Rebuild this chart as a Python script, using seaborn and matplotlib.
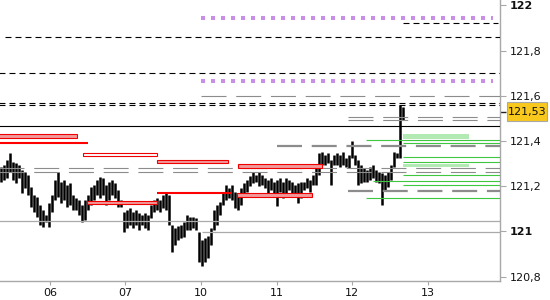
import matplotlib
matplotlib.use("Agg")
import matplotlib.pyplot as plt
import matplotlib.transforms as mtransforms
from matplotlib.patches import Rectangle
import seaborn as sns

sns.set_theme(style="white")
plt.rcParams["font.family"] = ["DejaVu Sans"]
plt.rcParams["lines.scale_dashes"] = False

# ---------------- data ----------------
bar_high = [121.285, 121.294, 121.316, 121.347, 121.307, 121.303, 121.294, 121.272, 121.263, 121.250,
            121.197, 121.162, 121.153, 121.117, 121.095, 121.073, 121.126, 121.162, 121.228, 121.263,
            121.219, 121.228, 121.206, 121.215, 121.162, 121.148, 121.139, 121.117, 121.139, 121.162,
            121.197, 121.206, 121.228, 121.241, 121.237, 121.206, 121.219, 121.228, 121.215, 121.184,
            121.139, 121.086, 121.095, 121.104, 121.086, 121.095, 121.082, 121.073, 121.082, 121.073,
            121.117, 121.139, 121.148, 121.139, 121.162, 121.175, 121.162, 121.029, 121.015, 121.024,
            121.029, 121.042, 121.073, 121.064, 121.064, 121.060, 120.998, 120.962, 120.971, 120.980,
            121.015, 121.095, 121.117, 121.130, 121.175, 121.206, 121.192, 121.206, 121.175, 121.170,
            121.192, 121.215, 121.228, 121.246, 121.263, 121.250, 121.263, 121.250, 121.237, 121.228,
            121.237, 121.219, 121.228, 121.237, 121.219, 121.237, 121.228, 121.219, 121.206, 121.215,
            121.219, 121.219, 121.237, 121.228, 121.250, 121.294, 121.347, 121.352, 121.338, 121.347,
            121.316, 121.338, 121.347, 121.338, 121.352, 121.325, 121.338, 121.400, 121.338, 121.316,
            121.294, 121.281, 121.272, 121.285, 121.294, 121.272, 121.263, 121.259, 121.250, 121.263,
            121.294, 121.352, 121.347, 121.560, 121.551]
bar_low = [121.219, 121.228, 121.237, 121.263, 121.228, 121.215, 121.237, 121.170, 121.192, 121.162,
           121.108, 121.086, 121.064, 121.029, 121.020, 121.042, 121.020, 121.086, 121.139, 121.153,
           121.126, 121.139, 121.108, 121.117, 121.095, 121.095, 121.073, 121.042, 121.051, 121.095,
           121.117, 121.139, 121.162, 121.148, 121.162, 121.117, 121.139, 121.162, 121.148, 121.108,
           121.108, 120.998, 121.015, 121.029, 121.015, 121.029, 121.007, 121.029, 121.015, 121.007,
           121.060, 121.086, 121.095, 121.086, 121.104, 121.095, 121.029, 120.909, 120.940, 120.962,
           120.971, 120.976, 121.007, 121.007, 121.015, 121.007, 120.865, 120.847, 120.865, 120.883,
           120.940, 121.007, 121.029, 121.073, 121.117, 121.139, 121.148, 121.139, 121.104, 121.095,
           121.117, 121.153, 121.175, 121.201, 121.215, 121.219, 121.201, 121.206, 121.192, 121.162,
           121.184, 121.162, 121.113, 121.175, 121.148, 121.162, 121.184, 121.170, 121.162, 121.126,
           121.148, 121.184, 121.192, 121.175, 121.206, 121.206, 121.250, 121.294, 121.294, 121.303,
           121.206, 121.294, 121.294, 121.285, 121.294, 121.285, 121.281, 121.325, 121.294, 121.206,
           121.215, 121.219, 121.219, 121.228, 121.237, 121.219, 121.215, 121.117, 121.184, 121.197,
           121.228, 121.285, 121.325, 121.325, 121.493]
bar_t0 = 0.351          # session time of the first bar (day units)
bar_step = 3 / 75.5     # bar interval (day units)

day_ticks = [1, 2, 3, 4, 5, 6]
day_labels = ["06", "07", "10", "11", "12", "13"]
price_ticks = [120.8, 121.0, 121.2, 121.4, 121.6, 121.8, 122.0]
price_labels = ["120,8", "121", "121,2", "121,4", "121,6", "121,8", "122"]
bold_labels = ["121", "122"]
last_price = 121.53
last_label = "121,53"

# horizontal levels: price, start, end
black_dash_price = [121.921, 121.859, 121.700, 121.567, 121.558]
black_dash_start = [5.676, 0.404, 0.0, 0.0, 0.0]
black_dash_end = [6.934, 7.0, 7.0, 7.0, 7.0]

black_solid_price = [121.465]
black_solid_start = [0.0]
black_solid_end = [7.0]

purple_price = [121.946, 121.666]
purple_start = [3.0, 3.0]
purple_end = [6.868, 6.868]

gray_thin_dash_price = [121.598, 121.505, 121.492, 121.282, 121.262]
gray_thin_dash_start = [3.0, 4.947, 4.947, 0.0, 0.0]
gray_thin_dash_end = [7.0, 7.0, 7.0, 7.0, 7.0]

gray_thick_price = [121.380, 121.179]
gray_thick_start = [4.007, 4.947]
gray_thick_end = [7.0, 7.0]

gray_solid_price = [121.046, 120.996]
gray_solid_start = [0.0, 3.013]
gray_solid_end = [7.0, 7.0]

green_price = [121.403, 121.390, 121.328, 121.306, 121.249, 121.223, 121.204, 121.147]
green_start = [5.185, 5.676, 5.676, 5.676, 5.676, 5.278, 5.676, 5.185]
green_end = [7.0, 7.0, 7.0, 7.0, 7.0, 7.0, 7.0, 7.0]

green_zone_low = [121.410, 121.284]
green_zone_high = [121.431, 121.300]
green_zone_start = [5.676, 5.676]
green_zone_end = [6.550, 6.550]

red_line_price = [121.392, 121.172]
red_line_start = [0.0, 2.417]
red_line_end = [1.504, 3.411]

red_zone_low = [121.415, 121.335, 121.304, 121.122, 121.279, 121.154]
red_zone_high = [121.430, 121.346, 121.316, 121.136, 121.298, 121.171]
red_zone_start = [0.0, 1.437, 2.417, 1.490, 3.490, 3.477]
red_zone_end = [1.358, 2.417, 3.358, 2.417, 4.603, 4.470]
red_zone_fill = [True, False, True, True, True, True]

# ---------------- figure ----------------
fig = plt.figure(figsize=(5.5, 3.0), dpi=100)
ax = fig.add_axes([0.0, 19 / 300, 500 / 550, 281 / 300])
ax.set_xlim(0.338, 6.96)
ax.set_ylim(120.781, 122.024)

bar_t = [bar_t0 + i * bar_step for i in range(len(bar_high))]
ax.vlines(bar_t, bar_low, bar_high, colors="black", linewidth=1.8, zorder=2)


def hlines(prices, starts, ends, **kw):
    for p, s, e in zip(prices, starts, ends):
        ax.plot([s, e], [p, p], solid_capstyle="butt", **kw)


hlines(gray_solid_price, gray_solid_start, gray_solid_end, color="#aaaaaa", lw=0.9, zorder=3)
hlines(black_dash_price, black_dash_start, black_dash_end, color="black", lw=0.8,
       dashes=(4.3, 2.9), zorder=4)
hlines(black_solid_price, black_solid_start, black_solid_end, color="black", lw=0.8, zorder=4)
hlines(purple_price, purple_start, purple_end, color="#c98ee6", lw=2.9,
       dashes=(2.9, 4.3), zorder=4)
hlines(gray_thin_dash_price, gray_thin_dash_start, gray_thin_dash_end, color="#8c8c8c",
       lw=0.8, dashes=(18, 7), zorder=4)
hlines(gray_thick_price, gray_thick_start, gray_thick_end, color="#8c8c8c", lw=1.6,
       dashes=(18, 7), zorder=4)

for lo, hi, s, e in zip(green_zone_low, green_zone_high, green_zone_start, green_zone_end):
    ax.add_patch(Rectangle((s, lo), e - s, hi - lo, facecolor="#b3e9b3", edgecolor="none",
                           zorder=3))
hlines(green_price, green_start, green_end, color="#3fc83f", lw=0.8, zorder=4)

for lo, hi, s, e, f in zip(red_zone_low, red_zone_high, red_zone_start, red_zone_end, red_zone_fill):
    ax.add_patch(Rectangle((s, lo), e - s, hi - lo,
                           facecolor="#f29a9a" if f else "white",
                           edgecolor="#ee0000", linewidth=0.8, zorder=5))
hlines(red_line_price, red_line_start, red_line_end, color="#ff0000", lw=1.5, zorder=5)

# ---------------- axes styling ----------------
for side in ["left", "top"]:
    ax.spines[side].set_visible(False)
for side in ["right", "bottom"]:
    ax.spines[side].set_color("#a8a8a8")
    ax.spines[side].set_linewidth(1.0)

ax.yaxis.tick_right()
ax.set_yticks(price_ticks)
ax.set_yticklabels(price_labels)
ax.set_yticks([last_price], minor=True)
ax.tick_params(axis="y", which="major", direction="out", length=4, width=0.8,
               color="#a8a8a8", labelsize=8, pad=3, labelcolor="#111111", right=True, left=False)
ax.tick_params(axis="y", which="minor", direction="out", length=4, width=1.0,
               color="#222222", right=True, left=False, labelright=False)
for lab in ax.get_yticklabels():
    if lab.get_text() in bold_labels:
        lab.set_fontweight("bold")

ax.set_xticks(day_ticks)
ax.set_xticklabels(day_labels)
ax.tick_params(axis="x", direction="out", length=3, width=0.8, color="#a8a8a8",
               labelsize=8, pad=2, labelcolor="#111111", bottom=True)

# last price badge
trans = mtransforms.blended_transform_factory(ax.transAxes, ax.transData)
half_h = 9.5 / 226
ax.add_patch(Rectangle((1.014, last_price - half_h), 0.08, 2 * half_h, transform=trans,
                       facecolor="#f8c81c", edgecolor="#a8a8a8", linewidth=0.8, clip_on=False,
                       zorder=6))
ax.text(1.054, last_price, last_label, transform=trans, ha="center", va="center",
        fontsize=8, color="#111111", clip_on=False, zorder=7)

fig.savefig("out.png", dpi=100)
